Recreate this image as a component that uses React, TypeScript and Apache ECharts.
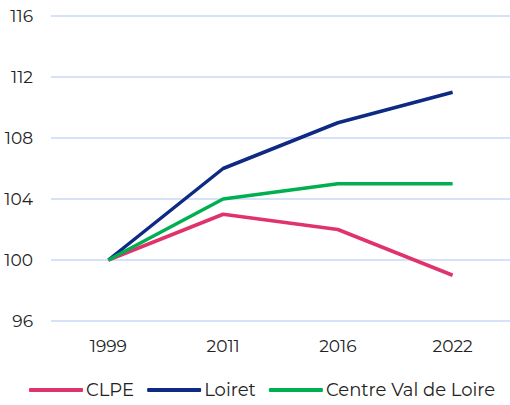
import React, { useEffect, useRef } from "react";
import * as echarts from "echarts";

const years = ["1999", "2011", "2016", "2022"];
const clpe = [100, 103, 102, 99];
const loiret = [100, 106, 109, 111];
const centre = [100, 104, 105, 105];
const seriesNames = ["CLPE", "Loiret", "Centre Val de Loire"];
const colors = ["#E0336B", "#0E2A84", "#00B050"];

export default function App() {
  const ref = useRef<HTMLDivElement>(null);
  useEffect(() => {
    if (!ref.current) return;
    const chart = echarts.init(ref.current, null, { renderer: "svg" });
    const font = "Montserrat, 'DejaVu Sans', sans-serif";
    const data = [clpe, loiret, centre];
    chart.setOption({
      animation: false,
      textStyle: { fontFamily: font },
      grid: { left: 51, top: 16, width: 466, height: 305, containLabel: false },
      xAxis: {
        type: "category",
        data: years,
        boundaryGap: true,
        axisLine: { show: false },
        axisTick: { show: false },
        axisLabel: { color: "#222", fontSize: 17, margin: 16, fontFamily: font },
      },
      yAxis: {
        type: "value",
        min: 96,
        max: 116,
        interval: 4,
        axisLine: { show: false },
        axisTick: { show: false },
        axisLabel: { color: "#222", fontSize: 17, margin: 18, fontFamily: font },
        splitLine: { lineStyle: { color: "#C9D8F7", width: 1.5 } },
      },
      legend: {
        bottom: 1,
        left: 24,
        itemWidth: 54,
        itemHeight: 4,
        itemGap: 13,
        icon: "roundRect",
        textStyle: { color: "#222", fontSize: 18, fontFamily: font, padding: [0, 0, 0, -2] },
        data: seriesNames,
      },
      series: seriesNames.map((name, i) => ({
        name,
        type: "line",
        data: data[i],
        showSymbol: false,
        symbol: "none",
        color: colors[i],
        lineStyle: { width: 3.5, color: colors[i] },
      })),
    });
    return () => chart.dispose();
  }, []);
  return <div ref={ref} style={{ width: 510, height: 405, position: "absolute", left: 0, top: 0 }} />;
}
